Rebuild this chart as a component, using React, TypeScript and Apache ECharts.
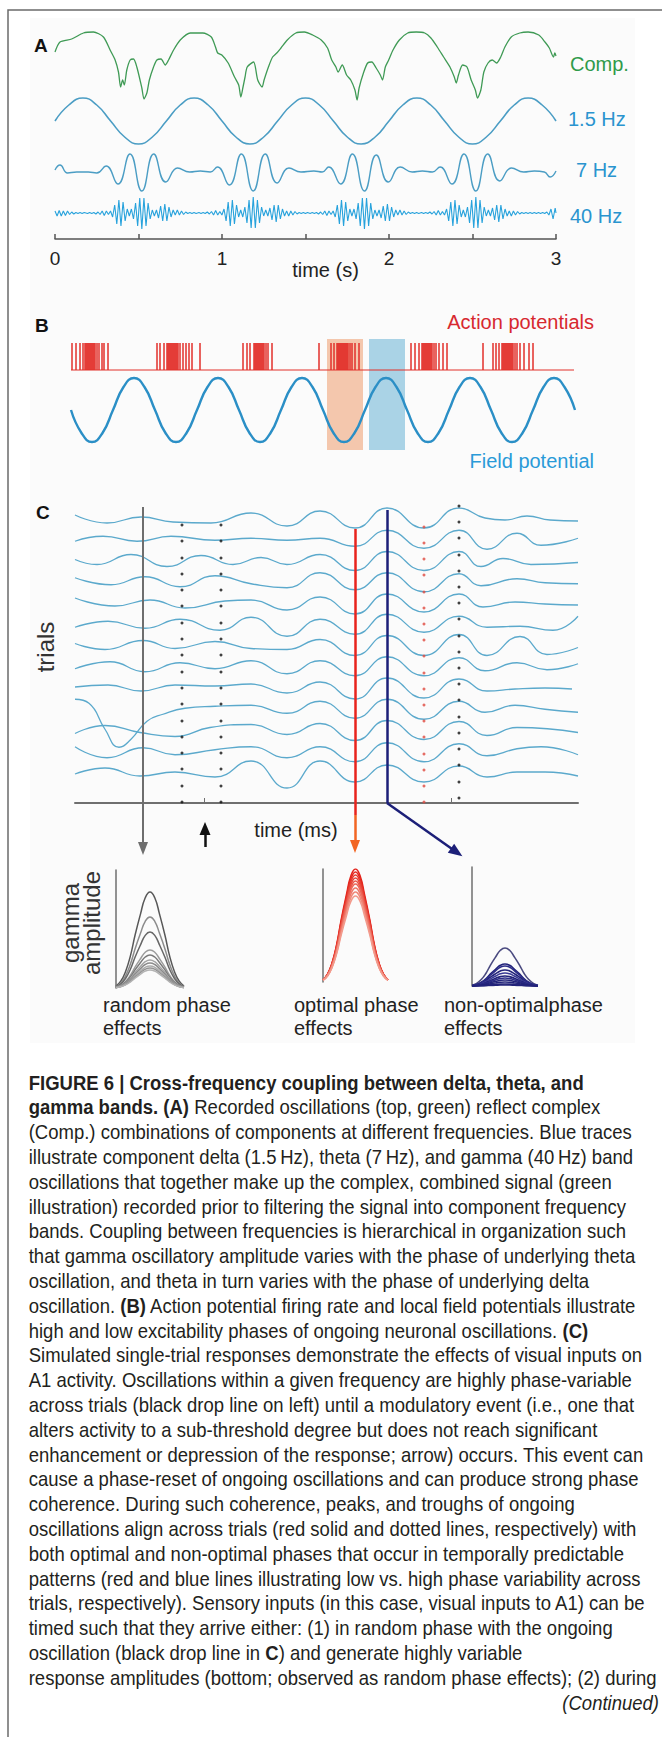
import React, { useEffect, useRef } from "react";
import * as echarts from "echarts";

const W = 662;
const H = 1737;
const FONT = '"Liberation Sans", Arial, Helvetica, sans-serif';

// ---------------- Panel A (time in s) ----------------
const A_TIME_TICKS = [0, 1, 2, 3];
const A_TRACE_NAMES = ["Comp.", "1.5 Hz", "7 Hz", "40 Hz"];

// composite (green) trace: [time s, amplitude]
const COMP_TRACE: [number, number][] = [
  [0, -20], [0.03, -10], [0.1, -7], [0.17, -1], [0.23, 0], [0.29, -5], [0.33, -18], [0.36, -28], [0.38, -40],
  [0.393, -55], [0.405, -48], [0.415, -53], [0.43, -38], [0.45, -28], [0.47, -27], [0.49, -35], [0.52, -56],
  [0.533, -67], [0.55, -61], [0.565, -48], [0.59, -35], [0.61, -28], [0.635, -27], [0.66, -33], [0.68, -28],
  [0.71, -18], [0.75, -8], [0.81, -1], [0.885, -1], [0.936, -5], [0.961, -15], [0.974, -21], [0.999, -23],
  [1.037, -31], [1.075, -45], [1.1, -53], [1.113, -65], [1.126, -55], [1.138, -45], [1.151, -35], [1.189, -30],
  [1.214, -48], [1.24, -55], [1.252, -48], [1.278, -35], [1.303, -25], [1.328, -21], [1.353, -16], [1.391, -8],
  [1.442, -1], [1.493, 0], [1.543, -3], [1.594, -8], [1.632, -16], [1.657, -28], [1.682, -35], [1.695, -40],
  [1.72, -33], [1.746, -43], [1.771, -48], [1.796, -58], [1.809, -68], [1.821, -56], [1.847, -41], [1.872, -31],
  [1.897, -30], [1.923, -36], [1.948, -43], [1.961, -48], [1.978, -35], [1.998, -28], [2.024, -18], [2.062, -8],
  [2.112, -1], [2.163, 0], [2.214, -1], [2.251, -6], [2.289, -15], [2.327, -25], [2.365, -35], [2.391, -45],
  [2.403, -51], [2.416, -43], [2.441, -33], [2.467, -35], [2.492, -48], [2.517, -58], [2.53, -66], [2.55, -58],
  [2.568, -40], [2.593, -31], [2.618, -28], [2.644, -31], [2.669, -25], [2.694, -15], [2.732, -5], [2.783, -1],
  [2.833, 0], [2.897, -3], [2.934, -10], [2.96, -16], [2.985, -25], [2.993, -21], [3, -24],
];

// delta (1.5 Hz) trace
const DELTA_TRACE: [number, number][] = [
  [0, 0], [0.083, 16], [0.167, 23], [0.25, 16], [0.333, 0], [0.417, -16], [0.5, -23], [0.583, -16],
  [0.667, 0], [0.75, 16], [0.833, 23], [0.917, 16], [1, 0], [1.083, -16], [1.167, -23], [1.25, -16],
  [1.333, 0], [1.417, 16], [1.5, 23], [1.583, 16], [1.667, 0], [1.75, -16], [1.833, -23], [1.917, -16],
  [2, 0], [2.083, 16], [2.167, 23], [2.25, 16], [2.333, 0], [2.417, -16], [2.5, -23], [2.583, -16],
  [2.667, 0], [2.75, 16], [2.833, 23], [2.917, 16], [3, 0],
];

// theta (7 Hz) trace
const THETA_TRACE: [number, number][] = [
  [0, 2], [0.03, 7], [0.075, -1], [0.13, 0], [0.2, 0], [0.25, -1],
  [0.306, 6], [0.377, -12], [0.449, 18], [0.52, -19], [0.591, 18], [0.663, -10], [0.734, 4], [0.806, 0],
  [0.87, 1], [0.93, 0],
  [0.973, 5], [1.044, -13], [1.116, 18], [1.187, -19], [1.259, 18], [1.33, -11], [1.401, 4], [1.473, 0],
  [1.55, 1], [1.6, 0],
  [1.639, 5], [1.71, -12], [1.781, 18], [1.853, -19], [1.924, 17], [1.996, -10], [2.067, 5], [2.139, 0],
  [2.2, 1], [2.26, 0],
  [2.306, 5], [2.377, -12], [2.449, 18], [2.52, -19], [2.591, 18], [2.663, -9], [2.734, 4], [2.806, 0],
  [2.87, 1], [2.93, 0], [2.965, -5], [3, 1],
];

// gamma (40 Hz): amplitude of successive half-cycles
const GAMMA_HALF_PERIOD = 1 / 80;
const GAMMA_HEAD = [2, 3, 2.5, 3, 2, 2.5, 2, 1.5, 1, 1, 0.5, 0.5, 0.5, 0.5, 0.5];
const GAMMA_CYCLE_ENVELOPE = [
  0.5, 0.5, 0.5, 0.5, 1, 1, 1.5, 2, 2.5, 2, 1.5,
  2, 4, 8, 11, 13, 13, 11, 8, 4,
  3, 4,
  6, 10, 13, 15, 16, 15, 13, 10, 6,
  3, 3,
  3, 5, 7, 8, 9, 8, 6, 4, 3,
  2, 3, 2, 2, 1.5, 1,
  0.5, 0.5, 0.5, 0.5, 0.5,
];
const GAMMA_CYCLE_CENTRES = [0.52, 1.187, 1.853, 2.52];
const GAMMA_TAIL = [0.5, 0.5, 0.5, 0.5, 0.5, 0.5, 0.5, 1, 2, 4, 6, 5];

// ---------------- Panel B ----------------
const SPIKE_TIMES = [
  1, 5, 9, 12, 14, 15, 16, 17, 18, 19, 20, 21, 22, 23, 24, 26, 28, 31, 33, 37,
  86, 89, 93, 96, 97, 98, 99, 100, 101, 102, 103, 104, 105, 106, 107, 109, 112, 115, 118, 121, 129,
  172, 176, 179, 183, 184, 185, 186, 187, 188, 189, 190, 191, 192, 193, 195, 197, 201,
  248, 260, 263, 266, 267, 268, 269, 270, 271, 272, 273, 274, 275, 276, 277, 279, 281, 284, 288,
  340, 344, 348, 351, 352, 353, 354, 355, 356, 357, 358, 359, 360, 361, 363, 365, 368, 372, 376,
  412, 422, 425, 428, 431, 432, 433, 434, 435, 436, 437, 438, 439, 440, 441, 442, 444, 446, 449, 453, 458, 462,
];
const FIELD_TRACE: [number, number][] = [
  [0, 0], [10.5, -23], [21, -32], [31.5, -23], [42, 0], [52.5, 23], [63, 32], [73.5, 23],
  [84, 0], [94.5, -23], [105, -32], [115.5, -23], [126, 0], [136.5, 23], [147, 32], [157.5, 23],
  [168, 0], [178.5, -23], [189, -32], [199.5, -23], [210, 0], [220.5, 23], [231, 32], [241.5, 23],
  [252, 0], [262.5, -23], [273, -32], [283.5, -23], [294, 0], [304.5, 23], [315, 32], [325.5, 23],
  [336, 0], [346.5, -23], [357, -32], [367.5, -23], [378, 0], [388.5, 23], [399, 32], [409.5, 23],
  [420, 0], [430.5, -23], [441, -32], [451.5, -23], [462, 0], [472.5, 23], [483, 32], [493.5, 23],
  [504, 0],
];
const PHASE_WINDOWS: [number, number][] = [[256, 292], [298, 334]];

// ---------------- Panel C ----------------
const TRIAL_TRACES: [number, number][][] = [
  [[0, 3], [32, -5], [66, 1], [98, -4], [136, -5], [176, 5], [212, -8], [245, 7], [280, -10], [312, 10], [349, -10], [384, 10], [410, 0], [430, -2], [452, 2], [475, -2], [503, -3]],
  [[0, -2], [28, 3], [62, -2], [96, 3], [140, -1], [176, 1], [212, -1], [245, 1], [280, -7], [312, 9], [349, -9], [384, 9], [412, -10], [442, 6], [466, -6], [503, 1]],
  [[0, 1], [22, -4], [56, 6], [92, -6], [126, 5], [158, -4], [186, 3], [212, -4], [245, 6], [280, -10], [312, 9], [349, -10], [384, 9], [406, -6], [428, 2], [456, -4], [503, -2]],
  [[0, 4], [36, -3], [70, 5], [105, -5], [140, 6], [176, -2], [212, -6], [245, 9], [280, -8], [312, 9], [349, -10], [384, 8], [406, -4], [442, 3], [470, -1], [503, -2]],
  [[0, 5], [40, -3], [75, 3], [110, -5], [150, 2], [176, 3], [212, -7], [245, 6], [280, -11], [312, 9], [349, -9], [384, 9], [408, -4], [440, 1], [470, -1], [503, -2]],
  [[0, -3], [33, 3], [70, -4], [105, 5], [145, -6], [176, 7], [212, -12], [245, 5], [280, -10], [312, 10], [349, -8], [384, 8], [412, -3], [445, -2], [478, -6], [503, 8]],
  [[0, 2], [30, -4], [68, 5], [100, -3], [140, 4], [176, -3], [212, -4], [245, 6], [280, -10], [312, 10], [349, -10], [384, 11], [412, -10], [445, 9], [472, -9], [503, -2]],
  [[0, -2], [35, 5], [70, -5], [105, 4], [140, -2], [176, 6], [212, -7], [245, 6], [280, -9], [312, 10], [349, -9], [384, 9], [410, -4], [442, 4], [472, -3], [503, 3]],
  [[0, 1], [33, 3], [66, -3], [100, 3], [140, 2], [176, 4], [212, -5], [245, 6], [280, -11], [312, 10], [349, -10], [384, 9], [412, -3], [440, -1], [470, 0], [497, -1]],
  [[0, 10], [14, 6], [30, -20], [44, -38], [56, -30], [72, -12], [88, -5], [110, 1], [140, 3], [176, 4], [212, -4], [245, 8], [280, -9], [312, 10], [349, -10], [384, 8], [410, -3], [440, 4], [470, 0], [503, -3]],
  [[0, -3], [30, 5], [65, -2], [100, -6], [135, 3], [176, 6], [212, -4], [245, 7], [280, -10], [312, 10], [349, -9], [384, 9], [412, -5], [442, 3], [503, -2]],
  [[0, 5], [32, -6], [68, 4], [100, -3], [140, 2], [176, 5], [212, -6], [245, 5], [280, -10], [312, 9], [349, -10], [384, 8], [412, -4], [442, 3], [466, 5], [503, -3]],
  [[0, -1], [30, 5], [65, -3], [100, 1], [140, -4], [176, 12], [212, -15], [245, 12], [280, -9], [312, 8], [349, -9], [384, 7], [412, -4], [442, 1], [470, 1], [503, -3]],
];
const RANDOM_DROP_X = 68;
const EVENT_X = 130;
const PEAK_X = 280; // optimal (trough) line
const NONOPT_X = 312;
const C_TICKS = [129, 376];
const BLACK_DOT_COLUMNS = [107, 146];
const BLACK_DOT_LEVELS = [278, 262, 245, 229, 213, 197, 180, 164, 148, 131, 115, 99, 82, 66, 50, 34, 17, 1];
const RIGHT_DOT_X = 384;
const RIGHT_DOT_LEVELS = [297, 281, 265, 248, 232, 216, 200, 184, 167, 151, 135, 119, 103, 86, 70, 54, 38, 21, 5];
const RED_DOT_X = 349;
const RED_DOT_LEVELS = [276, 260, 244, 228, 211, 195, 179, 163, 147, 130, 114, 98, 82, 66, 49, 33, 17, 1];

// ---------------- gamma amplitude panels ----------------
const BELL_X = [0, 0.07, 0.14, 0.21, 0.28, 0.36, 0.43, 0.5, 0.57, 0.64, 0.72, 0.79, 0.86, 0.93, 1];
const BELL_SHAPE = [0.02, 0.07, 0.17, 0.33, 0.55, 0.77, 0.94, 1, 0.94, 0.77, 0.55, 0.33, 0.17, 0.07, 0.02];
const RANDOM_AMPS = [96, 71, 56, 38, 33, 28, 25, 22, 20, 18];
const OPTIMAL_AMPS = [113, 110, 107, 104, 101, 98, 94, 90, 86];
const NONOPT_AMPS = [38, 22, 20, 16, 13, 10, 8, 6, 4, 2, 1];
const EFFECT_LABELS = [["random phase", "effects"], ["optimal phase", "effects"], ["non-optimalphase", "effects"]];

// ---------------- caption ----------------
const CAPTION_LINES = [
  "{b|FIGURE 6 | Cross-frequency coupling between delta, theta, and}",
  "{b|gamma bands. (A)} Recorded oscillations (top, green) reflect complex",
  "(Comp.) combinations of components at different frequencies. Blue traces",
  "illustrate component delta (1.5\u2009Hz), theta (7\u2009Hz), and gamma (40\u2009Hz) band",
  "oscillations that together make up the complex, combined signal (green",
  "illustration) recorded prior to filtering the signal into component frequency",
  "bands. Coupling between frequencies is hierarchical in organization such",
  "that gamma oscillatory amplitude varies with the phase of underlying theta",
  "oscillation, and theta in turn varies with the phase of underlying delta",
  "oscillation. {b|(B)} Action potential firing rate and local field potentials illustrate",
  "high and low excitability phases of ongoing neuronal oscillations. {b|(C)}",
  "Simulated single-trial responses demonstrate the effects of visual inputs on",
  "A1 activity. Oscillations within a given frequency are highly phase-variable",
  "across trials (black drop line on left) until a modulatory event (i.e., one that",
  "alters activity to a sub-threshold degree but does not reach significant",
  "enhancement or depression of the response; arrow) occurs. This event can",
  "cause a phase-reset of ongoing oscillations and can produce strong phase",
  "coherence. During such coherence, peaks, and troughs of ongoing",
  "oscillations align across trials (red solid and dotted lines, respectively) with",
  "both optimal and non-optimal phases that occur in temporally predictable",
  "patterns (red and blue lines illustrating low vs. high phase variability across",
  "trials, respectively). Sensory inputs (in this case, visual inputs to A1) can be",
  "timed such that they arrive either: (1) in random phase with the ongoing",
  "oscillation (black drop line in {b|C}) and generate highly variable",
  "response amplitudes (bottom; observed as random phase effects); (2) during",
];
const CAPTION_CONTINUED = "(Continued)";

// ---------------- layout / style constants ----------------
const CAP_X = 28.7;
const CAP_Y0 = 1083;
const CAP_LH = 24.8;
const CAP_FS = 19.5;
const CAP_COLOR = "#231f20";
const CAP_MAX_W = 628;

function measureCaptionScale(): number {
  try {
    const ctx = document.createElement("canvas").getContext("2d");
    if (!ctx) return 0.85;
    let maxW = 0;
    CAPTION_LINES.forEach((line) => {
      let w = 0;
      const re = /\{b\|([^}]*)\}/g;
      let last = 0;
      let m: RegExpExecArray | null;
      while ((m = re.exec(line))) {
        ctx.font = `${CAP_FS}px ${FONT}`;
        w += ctx.measureText(line.slice(last, m.index)).width;
        ctx.font = `bold ${CAP_FS}px ${FONT}`;
        w += ctx.measureText(m[1]).width;
        last = m.index + m[0].length;
      }
      ctx.font = `${CAP_FS}px ${FONT}`;
      w += ctx.measureText(line.slice(last)).width;
      if (w > maxW) maxW = w;
    });
    return maxW > 0 ? CAP_MAX_W / maxW : 0.85;
  } catch (e) {
    return 0.85;
  }
}

function txt(text: string, x: number, y: number, o: any = {}) {
  const align = o.align || "left";
  return {
    type: "text",
    x,
    y,
    rotation: o.rotation || 0,
    scaleX: o.scaleX || 1,
    silent: true,
    z: 10,
    style: {
      text,
      fill: o.color || "#222",
      fontSize: o.size || 20,
      fontFamily: FONT,
      fontWeight: o.weight || "normal",
      fontStyle: o.italic ? "italic" : "normal",
      align,
      verticalAlign: "middle",
      textAlign: align,
      textVerticalAlign: "middle",
      rich: o.rich,
    },
  };
}

function lineSeries(idx: number, data: any[], color: string, width: number, smooth: any = true, extra: any = {}) {
  return {
    type: "line",
    xAxisIndex: idx,
    yAxisIndex: idx,
    data,
    symbol: "none",
    smooth,
    silent: true,
    animation: false,
    lineStyle: { color, width },
    emphasis: { disabled: true },
    z: 3,
    ...extra,
  };
}

function arrowSeries(from: [number, number], to: [number, number], color: string, width: number, arrow: boolean, size: number[] = [10, 13]) {
  return {
    type: "line",
    xAxisIndex: 2,
    yAxisIndex: 2,
    data: [from],
    symbol: "none",
    lineStyle: { width: 0, opacity: 0 },
    silent: true,
    animation: false,
    z: 5,
    markLine: {
      silent: true,
      animation: false,
      symbol: ["none", arrow ? "triangle" : "none"],
      symbolSize: size,
      label: { show: false },
      emphasis: { disabled: true },
      lineStyle: { color, width, type: "solid" },
      itemStyle: { color },
      data: [[{ coord: from }, { coord: to }]],
    },
  };
}

function buildOption(capScale: number) {
  const gridBoxes = [
    { left: 55, top: 24, width: 501, height: 215 },
    { left: 71, top: 330, width: 504, height: 130 },
    { left: 75, top: 500, width: 503, height: 363 },
    { left: 116, top: 870, width: 68, height: 118 },
    { left: 323, top: 869, width: 65, height: 113 },
    { left: 472, top: 867, width: 66, height: 119 },
  ];
  const grid = gridBoxes.map((g) => ({ ...g, containLabel: false, outerBoundsMode: "none", show: false }));

  const hiddenX = (i: number, min: number, max: number) => ({ gridIndex: i, type: "value", min, max, show: false });
  const hiddenY = (i: number, min: number, max: number) => ({ gridIndex: i, type: "value", min, max, show: false });
  const effectY = (i: number, max: number) => ({
    gridIndex: i, type: "value", min: 0, max, show: true,
    axisLine: { show: true, onZero: false, lineStyle: { color: "#6f6f6f", width: 1.5 } },
    axisTick: { show: false }, axisLabel: { show: false }, splitLine: { show: false },
  });

  const xAxis: any[] = [
    {
      gridIndex: 0, type: "value", min: 0, max: 3, interval: 0.5,
      axisLine: { show: true, onZero: false, lineStyle: { color: "#555", width: 1.5 } },
      axisTick: { show: true, inside: true, length: 5, lineStyle: { color: "#555", width: 1.5 } },
      axisLabel: {
        show: true, margin: 10, fontSize: 19, color: "#222", fontFamily: FONT,
        formatter: (v: number) => (A_TIME_TICKS.indexOf(v) >= 0 ? String(v) : ""),
      },
      splitLine: { show: false },
      name: "time (s)", nameLocation: "middle", nameGap: 21, nameMoveOverlap: false,
      nameTextStyle: { fontSize: 20, color: "#222", fontFamily: FONT, padding: [0, 0, 0, 40] },
    },
    hiddenX(1, 0, 504),
    {
      gridIndex: 2, type: "value", min: 0, max: 503,
      axisLine: { show: true, onZero: true, lineStyle: { color: "#6f6f6f", width: 2 } },
      axisTick: { show: true, inside: true, length: 5, customValues: C_TICKS, lineStyle: { color: "#6f6f6f", width: 1 } },
      axisLabel: { show: false },
      splitLine: { show: false },
    },
    hiddenX(3, 0, 1),
    hiddenX(4, 0, 1),
    hiddenX(5, 0, 1),
  ];
  const yAxis: any[] = [
    hiddenY(0, 0, 215),
    hiddenY(1, -50, 80),
    hiddenY(2, -60, 303),
    effectY(3, 118),
    effectY(4, 113),
    effectY(5, 119),
  ];

  const series: any[] = [];

  // ---- Panel A ----
  const A_OFF = { comp: 207, delta: 118, theta: 67, gamma: 26 };
  series.push(lineSeries(0, COMP_TRACE.map(([t, v]) => [t, v + A_OFF.comp]), "#3f9a55", 1.3, 0.25));
  series.push(lineSeries(0, DELTA_TRACE.map(([t, v]) => [t, v + A_OFF.delta]), "#4b9dc4", 1.6, true));
  series.push(lineSeries(0, THETA_TRACE.map(([t, v]) => [t, v + A_OFF.theta]), "#4b9dc4", 1.4, true));
  const gamma: [number, number][] = [];
  let sgn = 1;
  GAMMA_HEAD.forEach((a, j) => { gamma.push([j * GAMMA_HALF_PERIOD, sgn * a]); sgn = -sgn; });
  GAMMA_CYCLE_CENTRES.forEach((tc) => {
    GAMMA_CYCLE_ENVELOPE.forEach((a, j) => { gamma.push([tc - 0.325 + j * GAMMA_HALF_PERIOD, sgn * a]); sgn = -sgn; });
  });
  const tailStart = GAMMA_CYCLE_CENTRES[GAMMA_CYCLE_CENTRES.length - 1] + 0.325 + GAMMA_HALF_PERIOD;
  GAMMA_TAIL.forEach((a, j) => { const t = tailStart + j * GAMMA_HALF_PERIOD; if (t <= 3) { gamma.push([t, sgn * a]); sgn = -sgn; } });
  gamma.push([3, 0]);
  series.push(lineSeries(0, gamma.map(([t, v]) => [t, v + A_OFF.gamma]), "#27a2dc", 1.1, false));

  // ---- Panel B ----
  const SPIKE_BASE = 40;
  const SPIKE_H = 27;
  series.push({
    type: "line", xAxisIndex: 1, yAxisIndex: 1, data: [[0, 0]], symbol: "none",
    lineStyle: { width: 0, opacity: 0 }, silent: true, z: 1,
    markArea: {
      silent: true,
      label: { show: false },
      data: PHASE_WINDOWS.map(([a, b], i) => [
        { coord: [a, 71], itemStyle: { color: i === 0 ? "#f4c7ad" : "#aad3e6", opacity: 1 } },
        { coord: [b, -40] },
      ]),
    },
  });
  const spikes: [number, number][] = [[0, SPIKE_BASE]];
  SPIKE_TIMES.forEach((s) => { spikes.push([s, SPIKE_BASE], [s, SPIKE_BASE + SPIKE_H], [s, SPIKE_BASE]); });
  spikes.push([503, SPIKE_BASE]);
  series.push(lineSeries(1, spikes, "#e2302b", 1, false));
  series.push(lineSeries(1, FIELD_TRACE, "#2b8fc6", 2.4, true));

  // ---- Panel C ----
  TRIAL_TRACES.forEach((tr, i) => {
    const base = 285 - 21.25 * i;
    series.push(lineSeries(2, tr.map(([x, v]) => [x, v + base]), "#5ba9cc", 1.3, true));
  });
  const blackDots: [number, number][] = [];
  BLACK_DOT_COLUMNS.forEach((x) => BLACK_DOT_LEVELS.forEach((y) => blackDots.push([x, y])));
  RIGHT_DOT_LEVELS.forEach((y) => blackDots.push([RIGHT_DOT_X, y]));
  series.push({ type: "scatter", xAxisIndex: 2, yAxisIndex: 2, data: blackDots, symbol: "circle", symbolSize: 3, itemStyle: { color: "#111" }, silent: true, z: 4 });
  series.push({ type: "scatter", xAxisIndex: 2, yAxisIndex: 2, data: RED_DOT_LEVELS.map((y) => [RED_DOT_X, y]), symbol: "circle", symbolSize: 3, itemStyle: { color: "#e04a40" }, silent: true, z: 4 });

  series.push(arrowSeries([RANDOM_DROP_X, 296], [RANDOM_DROP_X, -45.5], "#6e6e6e", 2, true, [10, 13]));
  series.push(arrowSeries([PEAK_X, 274], [PEAK_X, -12], "#e8231d", 2.5, false));
  series.push(arrowSeries([PEAK_X, -12], [PEAK_X, -43.5], "#f26522", 2.5, true, [10, 13]));
  series.push(arrowSeries([NONOPT_X, 293], [NONOPT_X, 0], "#1c1f78", 2.5, false));
  series.push(arrowSeries([NONOPT_X, 0], [381.7, -49.2], "#1c1f78", 2.5, true, [11, 14]));
  series.push(arrowSeries([EVENT_X, -44], [EVENT_X, -25.5], "#111", 2.5, true, [11, 13]));

  // ---- gamma amplitude panels ----
  const grayCols = ["#585858", "#8c8c8c", "#666", "#9c9c9c", "#7a7a7a", "#a4a4a4", "#8a8a8a", "#ababab", "#939393", "#b3b3b3"];
  RANDOM_AMPS.forEach((a, i) => series.push(lineSeries(3, BELL_X.map((x, j) => [x, a * BELL_SHAPE[j]]), grayCols[i % grayCols.length], 1.5, true)));
  const redCols = ["#e3231b", "#e52a20", "#e63a2e", "#e8463a", "#ea5648", "#ec6658", "#ee7668", "#f08878", "#f29a8c"];
  OPTIMAL_AMPS.forEach((a, i) => series.push(lineSeries(4, BELL_X.map((x, j) => [x, a * BELL_SHAPE[j]]), redCols[i % redCols.length], 1.6, true)));
  const navyCols = ["#4b4b80", "#22237a", "#2c2d88", "#22237a", "#3a3b95", "#22237a", "#2c2d88", "#22237a", "#22237a", "#22237a", "#22237a"];
  NONOPT_AMPS.forEach((a, i) => series.push(lineSeries(5, BELL_X.map((x, j) => [x, a * BELL_SHAPE[j]]), navyCols[i % navyCols.length], 1.6, true)));

  // ---- texts / frame ----
  const graphic: any[] = [
    { type: "rect", z: -10, silent: true, shape: { x: 30, y: 18, width: 605, height: 1025 }, style: { fill: "#fbfbfb" } },
    { type: "rect", z: 20, silent: true, shape: { x: 8, y: 10, width: 700, height: 1800 }, style: { fill: "none", stroke: "#6b6b6b", lineWidth: 1.5 } },
    txt("A", 34, 45, { weight: "bold", size: 19, color: "#111" }),
    txt("B", 35, 325, { weight: "bold", size: 19, color: "#111" }),
    txt("C", 36, 512, { weight: "bold", size: 19, color: "#111" }),
    txt(A_TRACE_NAMES[0], 570, 64, { color: "#2f9a4a", size: 20 }),
    txt(A_TRACE_NAMES[1], 568, 119, { color: "#2a94cf", size: 20 }),
    txt(A_TRACE_NAMES[2], 576, 170, { color: "#2a94cf", size: 20 }),
    txt(A_TRACE_NAMES[3], 570, 216, { color: "#2a94cf", size: 20 }),
    txt("Action potentials", 594, 322, { color: "#d7282f", size: 20, align: "right" }),
    txt("Field potential", 594, 461, { color: "#2a9ad8", size: 20, align: "right" }),
    txt("trials", 45, 647, { size: 24, color: "#333", align: "center", rotation: Math.PI / 2 }),
    txt("time (ms)", 296, 830, { size: 20, color: "#222", align: "center" }),
    txt("gamma", 70, 923, { size: 24, color: "#333", align: "center", rotation: Math.PI / 2 }),
    txt("amplitude", 91, 923, { size: 24, color: "#333", align: "center", rotation: Math.PI / 2 }),
  ];
  const effX = [103, 294, 444];
  EFFECT_LABELS.forEach((pair, i) => {
    graphic.push(txt(pair[0], effX[i], 1005, { size: 20, color: "#222" }));
    graphic.push(txt(pair[1], effX[i], 1028, { size: 20, color: "#222" }));
  });
  const rich = { b: { fontWeight: "bold", fontSize: CAP_FS, fontFamily: FONT, fill: CAP_COLOR } };
  CAPTION_LINES.forEach((line, i) => {
    graphic.push(txt(line, CAP_X, CAP_Y0 + i * CAP_LH, { size: CAP_FS, color: CAP_COLOR, scaleX: capScale, rich }));
  });
  graphic.push(txt(CAPTION_CONTINUED, 659, CAP_Y0 + CAPTION_LINES.length * CAP_LH, { size: CAP_FS, color: CAP_COLOR, scaleX: capScale, align: "right", italic: true }));

  return {
    animation: false,
    backgroundColor: "#ffffff",
    grid,
    xAxis,
    yAxis,
    series,
    graphic: { elements: graphic },
  };
}

export default function App() {
  const ref = useRef<HTMLDivElement>(null);
  useEffect(() => {
    if (!ref.current) return;
    const chart = echarts.init(ref.current, null, { renderer: "svg", width: W, height: H });
    chart.setOption(buildOption(measureCaptionScale()) as any);
    return () => chart.dispose();
  }, []);
  return <div ref={ref} style={{ position: "absolute", left: 0, top: 0, width: W, height: H, background: "#fff" }} />;
}
